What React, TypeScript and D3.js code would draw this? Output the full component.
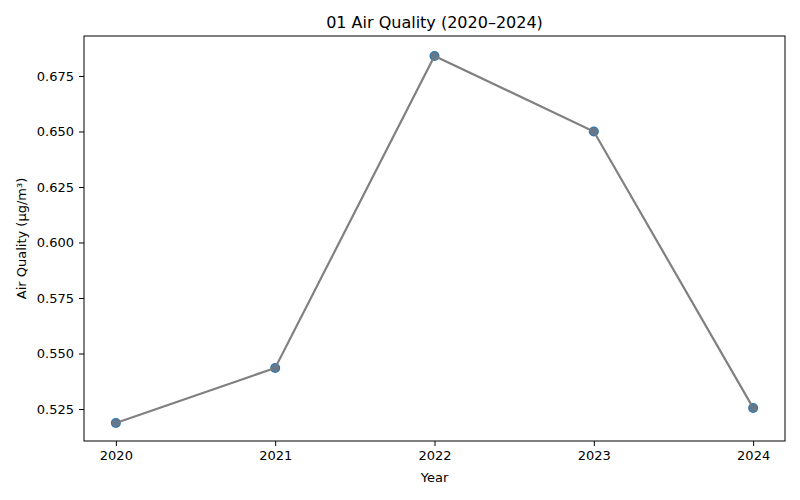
import { useEffect, useRef } from "react";
import * as d3 from "d3";

const years = [2020, 2021, 2022, 2023, 2024];
const quality = [0.5187, 0.5435, 0.684, 0.65, 0.5255];
const yTicks = [0.525, 0.55, 0.575, 0.6, 0.625, 0.65, 0.675];

const App = () => {
  const svgRef = useRef<SVGSVGElement | null>(null);

  useEffect(() => {
    const w = 800;
    const h = 500;
    const m = { top: 36, right: 15, bottom: 59, left: 84 };
    const svg = d3.select(svgRef.current).attr("width", w).attr("height", h);
    svg.selectAll("*").remove();
    const font = "DejaVu Sans, sans-serif";

    const x = d3.scaleLinear().domain([2019.8, 2024.2]).range([m.left, w - m.right]);
    const y = d3.scaleLinear().domain([0.5106, 0.693]).range([h - m.bottom, m.top]);

    // axes
    const xAxis = svg
      .append("g")
      .attr("transform", `translate(0, ${h - m.bottom})`)
      .call(d3.axisBottom(x).tickValues(years).tickFormat((d: any) => String(d)).tickSize(5).tickPadding(5));
    const yAxis = svg
      .append("g")
      .attr("transform", `translate(${m.left}, 0)`)
      .call(d3.axisLeft(y).tickValues(yTicks).tickFormat(d3.format(".3f")).tickSize(5).tickPadding(5));
    [xAxis, yAxis].forEach((g) => {
      g.select(".domain").remove();
      g.selectAll("text").attr("font-size", 13).attr("font-family", font).attr("fill", "#000");
      g.selectAll("line").attr("stroke", "#000");
    });

    // frame
    svg
      .append("rect")
      .attr("x", m.left)
      .attr("y", m.top)
      .attr("width", w - m.left - m.right)
      .attr("height", h - m.top - m.bottom)
      .attr("fill", "none")
      .attr("stroke", "#000")
      .attr("stroke-width", 1);

    const pts = years.map((yr, i) => ({ yr, v: quality[i] }));

    // markers
    svg
      .selectAll(".pt")
      .data(pts)
      .join("circle")
      .attr("cx", (d) => x(d.yr))
      .attr("cy", (d) => y(d.v))
      .attr("r", 5)
      .attr("fill", "#1f77b4");

    const line = d3
      .line<any>()
      .x((d) => x(d.yr))
      .y((d) => y(d.v));
    svg
      .append("path")
      .attr("d", line(pts))
      .attr("fill", "none")
      .attr("stroke", "#808080")
      .attr("stroke-width", 2.2);

    svg
      .selectAll(".pt2")
      .data(pts)
      .join("circle")
      .attr("cx", (d) => x(d.yr))
      .attr("cy", (d) => y(d.v))
      .attr("r", 4)
      .attr("fill", "#66788a");

    // titles
    svg
      .append("text")
      .attr("x", (m.left + w - m.right) / 2)
      .attr("y", 28)
      .attr("text-anchor", "middle")
      .attr("font-size", 16)
      .attr("font-family", font)
      .text("01 Air Quality (2020–2024)");
    svg
      .append("text")
      .attr("x", (m.left + w - m.right) / 2)
      .attr("y", 482)
      .attr("text-anchor", "middle")
      .attr("font-size", 13)
      .attr("font-family", font)
      .text("Year");
    svg
      .append("text")
      .attr("transform", `translate(26, ${(m.top + h - m.bottom) / 2}) rotate(-90)`)
      .attr("text-anchor", "middle")
      .attr("font-size", 13)
      .attr("font-family", font)
      .text("Air Quality (µg/m³)");
  }, []);

  return (
    <div style={{ position: "absolute", left: 0, top: 0, background: "#fff" }}>
      <svg ref={svgRef}></svg>
    </div>
  );
};

export default App;
